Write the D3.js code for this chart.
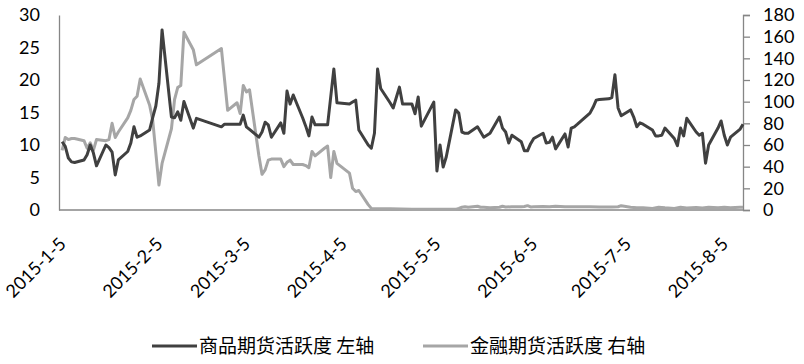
<!DOCTYPE html>
<html>
<head>
<meta charset="utf-8">
<script src="https://cdn.jsdelivr.net/npm/d3@7"></script>
<style>
  body { margin: 0; background: #fff; }
  svg { display: block; }
</style>
</head>
<body>
<svg width="804" height="364"></svg>
<script>
// 商品期货活跃度 (left axis)
var commodityDates = ['1-5','1-6','1-7','1-8','1-9','1-12','1-13','1-14','1-15','1-16',
  '1-19','1-20','1-21','1-22','1-23','1-26','1-27','1-28','1-29','1-30',
  '2-2','2-3','2-4','2-5','2-6','2-9','2-10','2-11','2-12','2-13','2-16','2-17',
  '2-25','2-26','2-27','3-2','3-3','3-4','3-5','3-6','3-9','3-10','3-11','3-12','3-13',
  '3-16','3-17','3-18','3-19','3-20','3-23','3-24','3-25','3-26','3-27','3-30','3-31',
  '4-2','4-3','4-7','4-8','4-9','4-10','4-13','4-14','4-15','4-16','4-17',
  '4-20','4-21','4-22','4-23','4-24','4-27','4-28','4-29','4-30',
  '5-4','5-5','5-6','5-7','5-8','5-11','5-12','5-13','5-14','5-15',
  '5-18','5-19','5-20','5-21','5-22','5-25','5-26','5-27','5-28','5-29',
  '6-1','6-2','6-3','6-4','6-5','6-8','6-9','6-10','6-11','6-12',
  '6-15','6-16','6-17','6-18','6-19','6-23','6-24','6-25','6-26','6-29','6-30',
  '7-1','7-2','7-3','7-6','7-7','7-8','7-9','7-10','7-13','7-14','7-15','7-16','7-17',
  '7-20','7-21','7-22','7-23','7-24','7-27','7-28','7-29','7-30','7-31',
  '8-3','8-4','8-5','8-6','8-7','8-10','8-11'];
var commodityValues = [10.5,9.8,8.0,7.4,7.3,7.7,8.5,10.0,8.8,6.8,
  10.0,9.6,8.9,5.4,7.7,9.0,10.3,12.8,11.2,11.4,
  12.3,14.2,16.0,19.5,27.7,14.3,14.2,15.1,13.8,16.7,12.6,14.1,
  12.8,13.2,13.2,13.2,13.2,14.6,12.8,12.4,11.2,12.0,13.5,13.1,11.2,
  13.4,11.8,18.3,16.3,17.7,14.2,12.9,11.4,14.3,13.1,13.1,13.1,
  21.7,16.5,16.3,16.6,16.9,12.3,10.0,9.5,11.8,21.7,18.7,
  16.5,15.7,17.3,18.9,16.3,16.3,14.8,17.4,12.9,
  16.6,6.0,10.0,6.6,8.2,15.4,14.9,12.0,11.8,11.8,
  12.8,12.0,11.2,11.5,11.8,14.3,12.6,12.0,10.3,11.5,
  10.5,9.1,9.1,10.2,11.0,11.8,10.3,10.4,11.2,9.4,
  11.7,9.7,12.6,12.8,13.2,14.9,15.8,16.9,17.0,17.1,17.3,
  20.8,15.7,14.5,15.4,14.3,12.8,13.4,13.2,12.3,11.4,11.4,11.5,12.6,
  11.0,9.9,12.6,11.4,14.1,12.0,11.5,11.8,7.2,10.0,
  12.6,13.7,11.5,10.0,11.2,12.4,13.2];

// 金融期货活跃度 (right axis)
var financeDates = ['1-5','1-6','1-7','1-8','1-9','1-12','1-13','1-14','1-15','1-16',
  '1-19','1-20','1-21','1-22','1-23','1-26','1-27','1-28','1-29','1-30',
  '2-2','2-3','2-5','2-6','2-9','2-10','2-11','2-12','2-13','2-16','2-17',
  '2-25','2-27','3-2','3-3','3-4','3-5','3-6','3-9','3-10','3-11','3-12','3-13',
  '3-16','3-17','3-18','3-19','3-20','3-23','3-24','3-25','3-26','3-27','3-30','3-31',
  '4-1','4-2','4-3','4-7','4-8','4-9','4-10','4-13','4-14','4-20','4-27',
  '5-4','5-11','5-12','5-13','5-14','5-15','5-18','5-19','5-20','5-22',
  '5-25','5-26','5-27','5-29','6-1','6-2','6-3','6-4','6-5','6-8','6-10','6-12',
  '6-15','6-19','6-23','6-26','6-30','7-2','7-3','7-6','7-8','7-10','7-13','7-15','7-17',
  '7-20','7-22','7-24','7-27','7-29','7-31','8-3','8-5','8-7','8-10','8-11'];
var financeValues = [55,67,65,66,66,64,57,62,55,65,
  64,65,80,67,72,85,92,102,105,121,
  97,83,23,43,75,102,113,115,164,148,134,
  149,92,99,89,115,109,111,50,33,37,46,47,
  47,40,44,46,42,42,41,39,54,50,57,59,
  30,54,43,34,20,17,18,5,1.5,1.2,0.8,
  0.6,0.6,1.5,2.5,3.0,2.5,3.5,2.5,2.5,2.0,
  2.5,3.5,2.8,3.0,3.0,3.2,4.0,2.8,3.0,3.2,3.0,3.5,
  3.0,3.0,3.0,2.8,2.8,3.0,4.0,2.5,2.0,2.0,1.5,2.5,2.0,
  1.5,2.5,1.8,2.2,1.8,2.5,2.0,2.5,2.0,2.5,2.5];

var leftTicks = [0, 5, 10, 15, 20, 25, 30];
var rightTicks = [0, 20, 40, 60, 80, 100, 120, 140, 160, 180];
var xTickLabels = ['2015-1-5','2015-2-5','2015-3-5','2015-4-5','2015-5-5','2015-6-5','2015-7-5','2015-8-5'];
var seriesNames = ['商品期货活跃度 左轴', '金融期货活跃度 右轴'];

var parseDate = d3.timeParse('%Y-%m-%d');
function toDate(s) { return parseDate('2015-' + s); }

var svg = d3.select('svg');
var plotLeft = 59, plotRight = 743, plotTop = 15, plotBottom = 210;
var axisColor = '#868686';
var numFont = 'Lato, "Open Sans", sans-serif';

var x = d3.scaleTime()
  .domain([toDate('1-4'), toDate('8-11')])
  .range([plotLeft, plotRight]);
var yLeft = d3.scaleLinear().domain([0, 30]).range([plotBottom, plotTop]);
var yRight = d3.scaleLinear().domain([0, 180]).range([plotBottom, plotTop]);

// axes
var leftAxis = svg.append('g')
  .attr('transform', 'translate(' + plotLeft + ',0)')
  .call(d3.axisLeft(yLeft).tickValues(leftTicks).tickSize(0).tickPadding(19));
var rightAxis = svg.append('g')
  .attr('transform', 'translate(' + plotRight + ',0)')
  .call(d3.axisRight(yRight).tickValues(rightTicks).tickSize(7).tickPadding(13));
[leftAxis, rightAxis].forEach(function(g) {
  g.select('.domain').attr('stroke', axisColor).attr('stroke-width', 1.3);
  g.selectAll('.tick line').attr('stroke', axisColor).attr('stroke-width', 1.3);
  g.selectAll('.tick text')
    .attr('fill', '#000')
    .style('font-family', numFont)
    .style('font-size', '18px');
});

svg.append('line')
  .attr('x1', plotLeft).attr('x2', plotRight)
  .attr('y1', plotBottom).attr('y2', plotBottom)
  .attr('stroke', axisColor)
  .attr('stroke-width', 1.3);

// rotated date labels
svg.append('g').selectAll('text')
  .data(xTickLabels)
  .enter().append('text')
  .attr('transform', function(d) {
    return 'translate(' + (x(parseDate(d)) + 5) + ',245) rotate(-45)';
  })
  .attr('text-anchor', 'end')
  .style('font-family', numFont)
  .style('font-size', '18px')
  .attr('fill', '#000')
  .text(function(d) { return d; });

// lines
var commodity = commodityDates.map(function(d, i) { return [toDate(d), commodityValues[i]]; });
var finance = financeDates.map(function(d, i) { return [toDate(d), financeValues[i]]; });

svg.append('path')
  .attr('d', d3.line().x(function(d) { return x(d[0]); }).y(function(d) { return yRight(d[1]); })(finance))
  .attr('fill', 'none')
  .attr('stroke', '#a6a6a6')
  .attr('stroke-width', 3)
  .attr('stroke-linejoin', 'round');

svg.append('path')
  .attr('d', d3.line().x(function(d) { return x(d[0]); }).y(function(d) { return yLeft(d[1]); })(commodity))
  .attr('fill', 'none')
  .attr('stroke', '#404040')
  .attr('stroke-width', 3)
  .attr('stroke-linejoin', 'round');

// legend
var legend = [
  { name: seriesNames[0], color: '#404040', x: 152 },
  { name: seriesNames[1], color: '#a6a6a6', x: 423 }
];
legend.forEach(function(item) {
  svg.append('line')
    .attr('x1', item.x).attr('x2', item.x + 45)
    .attr('y1', 346).attr('y2', 346)
    .attr('stroke', item.color)
    .attr('stroke-width', 3);
  svg.append('text')
    .attr('x', item.x + 47)
    .attr('y', 346)
    .attr('dy', '0.35em')
    .style('font-family', '"Noto Sans CJK SC", sans-serif')
    .style('font-size', '19px')
    .attr('fill', '#000')
    .text(item.name);
});
</script>
</body>
</html>
